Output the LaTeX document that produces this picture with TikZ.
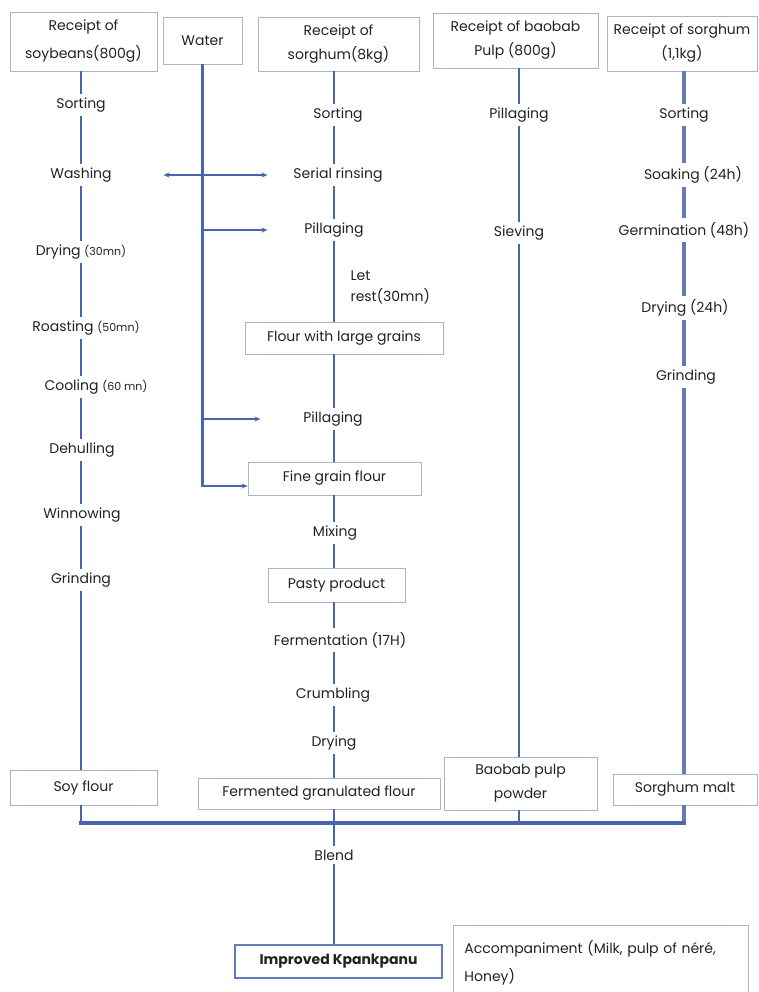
\documentclass[tikz,border=0pt]{standalone}
\usepackage{fontspec}
\setmainfont{Poppins}
\usetikzlibrary{arrows.meta}
\definecolor{linkblue}{RGB}{72,102,170}
\definecolor{maltblue}{RGB}{102,122,186}
\definecolor{boxline}{RGB}{168,180,206}
\definecolor{txt}{RGB}{34,34,34}
\newcommand{\tm}[1]{{\fontsize{11}{13}\selectfont #1}}

\begin{document}
\begin{tikzpicture}[x=1pt,y=-1pt,font=\fontsize{14}{16}\selectfont,text=txt,
    box/.style={draw=boxline,line width=0.9pt,align=center,inner sep=0pt,font=\fontsize{14}{24}\selectfont},
    stage/.style={inner sep=2pt,outer sep=2pt},
    link/.style={linkblue,line width=2pt},
    water/.style={linkblue,line width=2.6pt},
    pipe/.style={maltblue,line width=3.8pt},
    bus/.style={linkblue,line width=4.5pt,line cap=rect},
    tip/.style={-{Stealth[length=6pt,width=5pt]}}]

      \useasboundingbox (0,0) rectangle (758,992);

      \node[box,minimum width=147pt,minimum height=59pt] (a0) at (83.5,41.5) {Receipt of\\[4pt]soybeans(800g)};
      \node[stage] (a1) at (81,105) {Sorting};
      \node[stage] (a2) at (81,175) {Washing};
      \node[stage] (a3) at (81,252) {Drying \tm{(30mn)}};
      \node[stage] (a4) at (86,328) {Roasting \tm{(50mn)}};
      \node[stage] (a5) at (96,387) {Cooling \tm{(60 mn)}};
      \node[stage] (a6) at (82,450) {Dehulling};
      \node[stage] (a7) at (82,515) {Winnowing};
      \node[stage] (a8) at (81,580) {Grinding};
      \node[box,minimum width=147pt,minimum height=35pt] (a9) at (83.5,787.5) {Soy flour};

      \node[box,minimum width=79pt,minimum height=47pt] (w0) at (202.5,40.5) {Water};

      \node[box,minimum width=161pt,minimum height=54pt] (b0) at (338.5,44) {Receipt of\\sorghum(8kg)};
      \node[stage] (b1) at (338,115) {Sorting};
      \node[stage] (b2) at (338,175) {Serial rinsing};
      \node[stage] (b3) at (334,230) {Pillaging};
      \node[align=left,anchor=west,font=\fontsize{14}{21}\selectfont] (b4) at (347,287) {Let\\rest(30mn)};
      \node[box,minimum width=198pt,minimum height=32pt] (b5) at (344,338) {Flour with large grains};
      \node[stage] (b6) at (333,419) {Pillaging};
      \node[box,minimum width=173pt,minimum height=33pt] (b7) at (334.5,478.5) {Fine grain flour};
      \node[stage] (b8) at (335,533) {Mixing};
      \node[box,minimum width=137pt,minimum height=34pt] (b9) at (336.5,585) {Pasty product};
      \node[stage] (b10) at (340,640) {Fermentation (17H)};
      \node[stage] (b11) at (333,695) {Crumbling};
      \node[stage] (b12) at (334,743) {Drying};
      \node[box,minimum width=242pt,minimum height=31pt] (b13) at (319,793.5) {Fermented granulated flour};

      \node[box,minimum width=165pt,minimum height=55pt] (c0) at (515.5,40.5) {Receipt of baobab\\Pulp (800g)};
      \node[stage] (c1) at (519,115) {Pillaging};
      \node[stage] (c2) at (519,233) {Sieving};
      \node[box,minimum width=153pt,minimum height=53pt] (c3) at (520.5,783.5) {Baobab pulp\\powder};

      \node[box,minimum width=150pt,minimum height=55pt] (d0) at (682,43.5) {Receipt of sorghum\\(1,1kg)};
      \node[stage] (d1) at (684,115) {Sorting};
      \node[stage] (d2) at (693,175) {Soaking (24h)};
      \node[stage] (d3) at (684,230) {Germination (48h)};
      \node[stage] (d4) at (685,308) {Drying (24h)};
      \node[stage] (d5) at (686,377) {Grinding};
      \node[box,minimum width=144pt,minimum height=31pt] (d6) at (685,789.5) {Sorghum malt};

      \coordinate (j0) at (334,823);
      \node[stage] (e0) at (334,855) {Blend};
      \node[box,draw=linkblue!85,line width=1.8pt,minimum width=207pt,minimum height=33pt,font=\fontsize{14}{16}\selectfont\bfseries] (e1) at (338.5,961.5) {Improved Kpankpanu};
      \node[box,anchor=north west,align=left,text width=273pt,inner xsep=11pt,minimum height=75pt,font=\fontsize{14}{28}\selectfont] (e2) at (453,925) {Accompaniment (Milk, pulp of néré,\\Honey)};

      \draw[link] (a1 |- a0.south) -- (a1.north);
      \draw[link] (a1.south) -- (a2.north);
      \draw[link] (a2.south) -- (a3.north);
      \draw[link] (a3.south) -- (a3.south |- a4.north);
      \draw[link] (a4.south -| a1) -- (a5.north -| a1);
      \draw[link] (a5.south -| a1) -- (a6.north -| a1);
      \draw[link] (a6.south -| a1) -- (a7.north -| a1);
      \draw[link] (a7.south -| a1) -- (a8.north -| a1);
      \draw[link] (a8.south) -- (a8 |- a9.north);
      \draw[link] (a8 |- a9.south) -- (a8 |- j0);

      \draw[water] (w0.south) |- ([yshift=-7.5pt]b7.west) [tip];
      \draw[water,tip] (w0 |- b2) -- ++(65,0);
      \draw[water,tip] (w0 |- b2) -- ++(-39,0);
      \draw[water,tip] (w0 |- b3) -- ++(65,0);
      \draw[water,tip] (w0 |- b6) -- ++(58,0);

      \draw[link] (b0.south -| j0) -- (b1.north -| j0);
      \draw[link] (b1.south -| j0) -- (b2.north -| j0);
      \draw[link] (b2.south -| j0) -- (b3.north -| j0);
      \draw[link] (b3.south -| j0) -- (b5.north -| j0);
      \draw[link] (b5.south -| j0) -- (b6.north -| j0);
      \draw[link] (b6.south -| j0) -- (b7.north -| j0);
      \draw[link] (b7.south -| j0) -- (b8.north -| j0);
      \draw[link] (b8.south -| j0) -- (b9.north -| j0);
      \draw[link] (b9.south -| j0) -- (b10.north -| j0);
      \draw[link] (b10.south -| j0) -- (b11.north -| j0);
      \draw[link] (b11.south -| j0) -- (b12.north -| j0);
      \draw[link] (b12.south -| j0) -- (b13.north -| j0);
      \draw[link] (b13.south -| j0) -- (j0) -- (e0.north);
      \draw[link] (e0.south) -- (e0 |- e1.north);

      \draw[water] (c1 |- c0.south) -- (c1.north);
      \draw[water] (c1.south) -- (c2.north);
      \draw[water] (c2.south) -- (c2 |- c3.north);
      \draw[water] (c2 |- c3.south) -- (c2 |- j0);

      \draw[pipe] (d0.south -| d1) -- (d1.north);
      \draw[pipe] (d1.south) -- (d2.north -| d1);
      \draw[pipe] (d2.south -| d1) -- (d3.north -| d1);
      \draw[pipe] (d3.south -| d1) -- (d4.north -| d1);
      \draw[pipe] (d4.south -| d1) -- (d5.north -| d1);
      \draw[pipe] (d5.south -| d1) -- (d6.north -| d1);
      \draw[pipe] (d6.south -| d1) -- (d1 |- j0);

      \draw[bus] (a1 |- j0) -- (d1 |- j0);
    \end{tikzpicture}
\end{document}
